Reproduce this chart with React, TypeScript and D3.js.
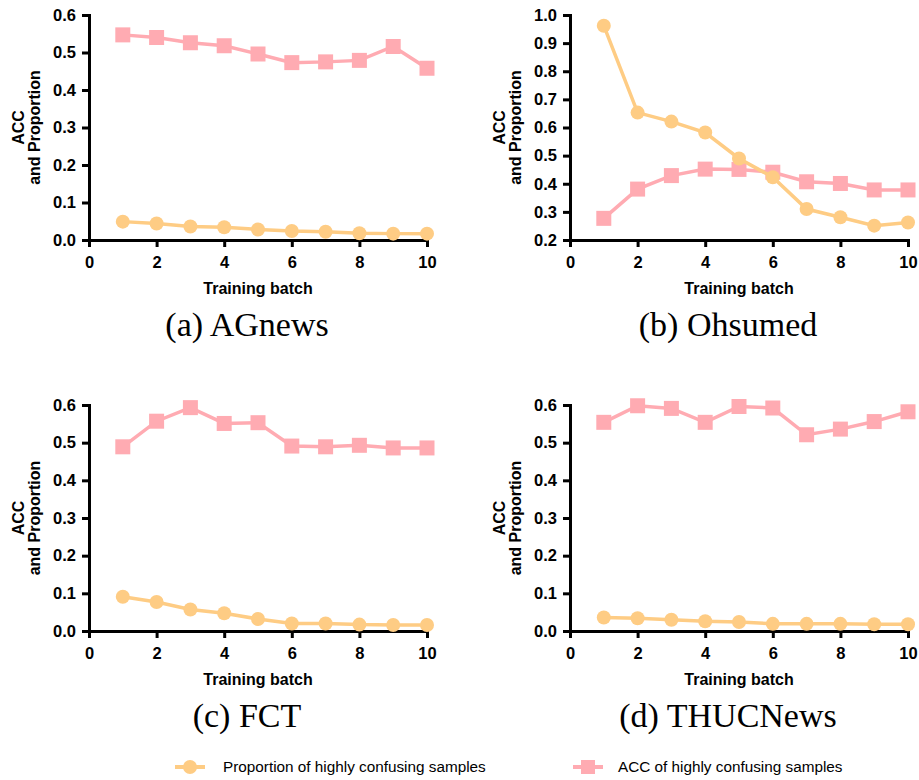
import React, { useRef, useEffect } from "react";
import * as d3 from "d3";

// training batches on the x axis
const batches = [1, 2, 3, 4, 5, 6, 7, 8, 9, 10];
const xTicks = [0, 2, 4, 6, 8, 10];

// (a) AGnews
const agnewsProportion = [0.049, 0.044, 0.036, 0.034, 0.028, 0.024, 0.022, 0.018, 0.017, 0.017];
const agnewsAcc = [0.547, 0.54, 0.526, 0.518, 0.496, 0.473, 0.475, 0.479, 0.516, 0.458];

// (b) Ohsumed
const ohsumedProportion = [0.962, 0.653, 0.621, 0.582, 0.49, 0.423, 0.31, 0.281, 0.251, 0.262];
const ohsumedAcc = [0.277, 0.381, 0.429, 0.452, 0.451, 0.441, 0.407, 0.401, 0.378, 0.378];

// (c) FCT
const fctProportion = [0.091, 0.077, 0.057, 0.047, 0.032, 0.02, 0.02, 0.017, 0.016, 0.016];
const fctAcc = [0.489, 0.557, 0.593, 0.551, 0.553, 0.491, 0.489, 0.493, 0.486, 0.486];

// (d) THUCNews
const thucProportion = [0.036, 0.034, 0.03, 0.026, 0.024, 0.019, 0.019, 0.019, 0.018, 0.018];
const thucAcc = [0.554, 0.598, 0.591, 0.554, 0.596, 0.592, 0.521, 0.536, 0.556, 0.582];

const captions = ["(a) AGnews", "(b) Ohsumed", "(c) FCT", "(d) THUCNews"];
const legendLabels = ["Proportion of highly confusing samples", "ACC of highly confusing samples"];

const ORANGE = "#FECC84";
const PINK = "#FFABB2";
const SANS = "'Liberation Sans', Arial, Helvetica, sans-serif";
const SERIF = "'Liberation Serif', 'Times New Roman', serif";

const panels = [
  { caption: captions[0], prop: agnewsProportion, acc: agnewsAcc, yDomain: [0, 0.6], left: 89, top: 15, bottom: 240 },
  { caption: captions[1], prop: ohsumedProportion, acc: ohsumedAcc, yDomain: [0.2, 1.0], left: 570, top: 15, bottom: 240 },
  { caption: captions[2], prop: fctProportion, acc: fctAcc, yDomain: [0, 0.6], left: 89, top: 405, bottom: 631 },
  { caption: captions[3], prop: thucProportion, acc: thucAcc, yDomain: [0, 0.6], left: 570, top: 405, bottom: 631 },
];

const App = () => {
  const svgRef = useRef<SVGSVGElement>(null);

  useEffect(() => {
    const svg = d3.select(svgRef.current);
    svg.selectAll("*").remove();

    const plotWidth = 338;

    panels.forEach((p) => {
      const g = svg.append("g");
      const x = d3.scaleLinear().domain([0, 10]).range([p.left, p.left + plotWidth]);
      const y = d3.scaleLinear().domain(p.yDomain).range([p.bottom, p.top]);
      const yTicks = d3.range(p.yDomain[0], p.yDomain[1] + 0.001, 0.1);

      // axes
      const xAxis = g
        .append("g")
        .attr("transform", `translate(0, ${p.bottom})`)
        .call(d3.axisBottom(x).tickValues(xTicks).tickFormat(d3.format("d")).tickSize(7).tickSizeOuter(0).tickPadding(9));
      const yAxis = g
        .append("g")
        .attr("transform", `translate(${p.left}, 0)`)
        .call(d3.axisLeft(y).tickValues(yTicks).tickFormat(d3.format(".1f")).tickSize(7).tickSizeOuter(0).tickPadding(6));

      [xAxis, yAxis].forEach((a) => {
        a.select(".domain").attr("stroke", "#000").attr("stroke-width", 3).attr("stroke-linecap", "square");
        a.selectAll(".tick line").attr("stroke", "#000").attr("stroke-width", 3);
        a.selectAll(".tick text")
          .attr("fill", "#000")
          .style("font-family", SANS)
          .style("font-weight", "bold")
          .style("font-size", "16.5px");
      });

      // axis titles
      g.append("text")
        .attr("x", p.left + plotWidth / 2)
        .attr("y", p.bottom + 54)
        .attr("text-anchor", "middle")
        .style("font-family", SANS)
        .style("font-weight", "bold")
        .style("font-size", "16px")
        .text("Training batch");

      const yMid = (p.top + p.bottom) / 2;
      [["ACC", 65], ["and Proportion", 49]].forEach(([label, off]) => {
        g.append("text")
          .attr("transform", `translate(${p.left - (off as number)}, ${yMid}) rotate(-90)`)
          .attr("text-anchor", "middle")
          .style("font-family", SANS)
          .style("font-weight", "bold")
          .style("font-size", "16px")
          .text(label as string);
      });

      const line = d3
        .line<number>()
        .x((d, i) => x(batches[i]))
        .y((d) => y(d));

      // ACC series (squares)
      g.append("path").datum(p.acc).attr("fill", "none").attr("stroke", PINK).attr("stroke-width", 3.5).attr("d", line);
      g.selectAll(".sq")
        .data(p.acc)
        .enter()
        .append("rect")
        .attr("x", (d, i) => x(batches[i]) - 7.5)
        .attr("y", (d) => y(d) - 7.5)
        .attr("width", 15)
        .attr("height", 15)
        .attr("fill", PINK);

      // Proportion series (circles)
      g.append("path").datum(p.prop).attr("fill", "none").attr("stroke", ORANGE).attr("stroke-width", 3.5).attr("d", line);
      g.selectAll(".dot")
        .data(p.prop)
        .enter()
        .append("circle")
        .attr("cx", (d, i) => x(batches[i]))
        .attr("cy", (d) => y(d))
        .attr("r", 7)
        .attr("fill", ORANGE);

      // caption
      g.append("text")
        .attr("x", p.left + 158)
        .attr("y", p.bottom + 96)
        .attr("text-anchor", "middle")
        .style("font-family", SERIF)
        .style("font-size", "34px")
        .text(p.caption);
    });

    // legend
    const legend = svg.append("g").attr("transform", "translate(0, 767)");
    const items = [
      { label: legendLabels[0], color: ORANGE, cx: 190, tx: 223, shape: "circle" },
      { label: legendLabels[1], color: PINK, cx: 588, tx: 618, shape: "square" },
    ];
    items.forEach((it) => {
      legend.append("line").attr("x1", it.cx - 15).attr("x2", it.cx + 15).attr("stroke", it.color).attr("stroke-width", 4);
      if (it.shape === "circle") {
        legend.append("circle").attr("cx", it.cx).attr("r", 7).attr("fill", it.color);
      } else {
        legend.append("rect").attr("x", it.cx - 7).attr("y", -7).attr("width", 14).attr("height", 14).attr("fill", it.color);
      }
      legend
        .append("text")
        .attr("x", it.tx)
        .attr("y", 5)
        .style("font-family", SANS)
        .style("font-size", "15.3px")
        .text(it.label);
    });
  }, []);

  return (
    <svg
      ref={svgRef}
      width={919}
      height={780}
      style={{ position: "absolute", left: 0, top: 0, background: "#fff" }}
    ></svg>
  );
};

export default App;
